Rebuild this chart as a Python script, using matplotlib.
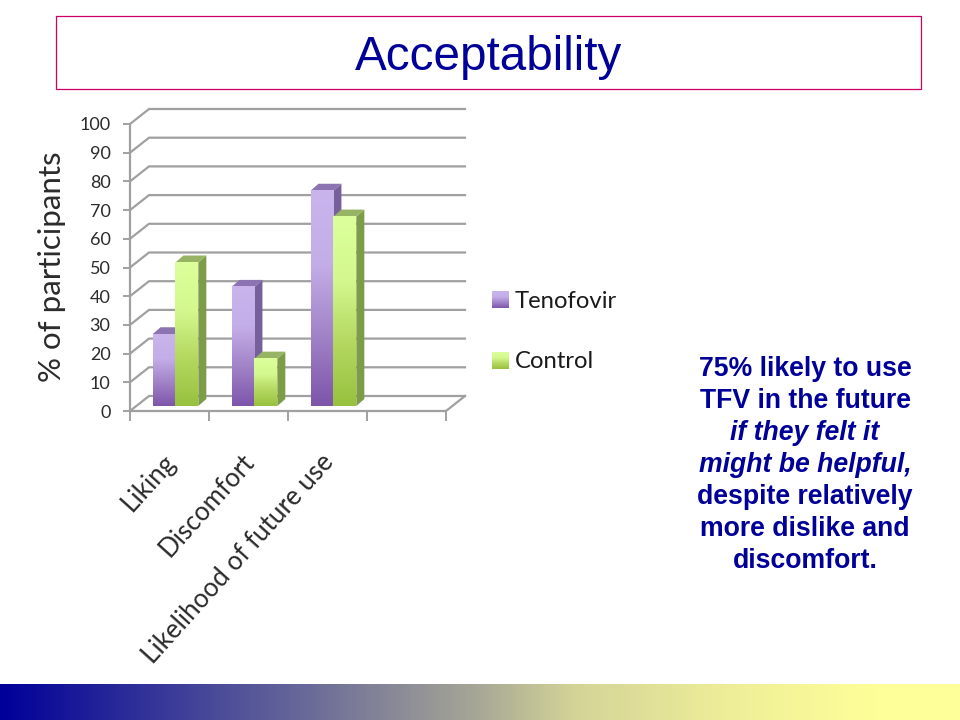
import numpy as np
import matplotlib
matplotlib.use("Agg")
import matplotlib.pyplot as plt
from matplotlib.colors import LinearSegmentedColormap
from matplotlib.patches import Polygon, Rectangle

categories = ["Liking", "Discomfort", "Likelihood of future use"]
tenofovir = [25, 41.5, 75]
control = [50, 16.5, 66]
y_ticks = [0, 10, 20, 30, 40, 50, 60, 70, 80, 90, 100]
slide_lines = [
    ("75% likely to use", "normal"),
    ("TFV in the future", "normal"),
    ("if they felt it", "italic"),
    ("might be helpful,", "italic"),
    ("despite relatively", "normal"),
    ("more dislike and", "normal"),
    ("discomfort.", "normal"),
]

W, H = 960, 720
navy = "#000099"
grid_col = "#a0a0a0"
chart_font = "Lato"
text_col = "#2b2b2b"

purple = LinearSegmentedColormap.from_list("p", ["#7d55aa", "#a284c8", "#c4aee8", "#c9b4ec"])
green = LinearSegmentedColormap.from_list("g", ["#98c13f", "#b4d860", "#d4f88e", "#dcff9c"])
grad = np.linspace(0, 1, 128).reshape(-1, 1)

fig = plt.figure(figsize=(9.6, 7.2), dpi=100)

# page layer in pixels
page = fig.add_axes([0, 0, 1, 1])
page.set_xlim(0, W)
page.set_ylim(H, 0)
page.axis("off")
page.add_patch(Rectangle((56, 16), 865, 73, fc="white", ec="#cc0066", lw=0.9))
page.text(488.5, 57, "Acceptability", family="Liberation Sans", fontsize=34.3,
          color=navy, ha="center", va="center")
band = LinearSegmentedColormap.from_list("b", [(0, navy), (0.32, "#6a6a99"), (0.5, "#a8a896"),
                                               (0.6, "#d4d498"), (0.76, "#eeee98"),
                                               (0.92, "#ffff99"), (1, "#ffff99")])
page.imshow(np.linspace(0, 1, 256).reshape(1, -1), extent=(0, W, 720, 684),
            cmap=band, aspect="auto")
page.set_xlim(0, W)
page.set_ylim(H, 0)

for i, (line, style) in enumerate(slide_lines):
    page.text(805, 369 + i * 32, line, family="Liberation Sans", fontsize=19.2,
              fontweight="bold", fontstyle=style, color=navy, ha="center", va="center")

# legend
for label, cm, y0 in [("Tenofovir", purple, 291), ("Control", green, 352)]:
    page.imshow(grad, extent=(492, 509, y0 + 17, y0), cmap=cm, origin="lower", aspect="auto")
    page.text(515, y0 + 10, label, family=chart_font, fontsize=17.2, color="#1a1a1a",
              ha="left", va="center")
page.set_xlim(0, W)
page.set_ylim(H, 0)

# chart: x in category units, y in percent, front plane of the box
ax = fig.add_axes([130 / W, 1 - 411 / H, 316 / W, 287 / H])
ax.set_xlim(0, 4)
ax.set_ylim(0, 100)
ax.patch.set_alpha(0)
for s in ax.spines.values():
    s.set_visible(False)

dx, dy = 19 / 79, 15 / 2.87  # box depth
for v in y_ticks:
    ax.plot([0, dx, 4 + dx], [v, v + dy, v + dy], color=grid_col, lw=1.6, clip_on=False,
            solid_joinstyle="miter", zorder=1)
ax.plot([0, 0], [0, 100], color=grid_col, lw=1.6, clip_on=False, zorder=1)
ax.plot([0, 4, 4 + dx], [0, 0, dy], color=grid_col, lw=1.6, clip_on=False, zorder=1)

ax.set_yticks(y_ticks)
ax.set_xticks(range(5))
ax.set_xticklabels([])
ax.tick_params(axis="y", length=5, width=1.4, color=grid_col, labelsize=13, pad=9,
               labelcolor=text_col)
ax.tick_params(axis="x", length=7.2, width=1.4, color=grid_col)
for lab in ax.get_yticklabels():
    lab.set_family(chart_font)

bar_w = 0.29
base = 5 / 2.87
side_dx, side_dy = 8 / 79, 7 / 2.87


def draw_bar(x0, v, cm, side_col, top_col, z):
    top = v + base
    ax.imshow(grad, extent=(x0, x0 + bar_w, base, top), cmap=cm, origin="lower",
              aspect="auto", zorder=z + 1)
    ax.add_patch(Polygon([(x0 + bar_w, base), (x0 + bar_w + side_dx, base + side_dy),
                          (x0 + bar_w + side_dx, top + side_dy), (x0 + bar_w, top)],
                         fc=side_col, ec="none", zorder=z))
    ax.add_patch(Polygon([(x0, top), (x0 + side_dx, top + side_dy),
                          (x0 + bar_w + side_dx, top + side_dy), (x0 + bar_w, top)],
                         fc=top_col, ec="none", zorder=z))


for i in range(len(categories)):
    mid = i + 0.575
    draw_bar(mid - bar_w, tenofovir[i], purple, "#76609c", "#8c74b2", 3)
    draw_bar(mid, control[i], green, "#7c9c48", "#96b464", 5)
ax.set_xlim(0, 4)
ax.set_ylim(0, 100)

for i, name in enumerate(categories):
    ax.annotate(name, xy=(i + 0.62, 0), xytext=(-17, -38), textcoords="offset pixels",
                family=chart_font, fontsize=18.7, color=text_col, rotation=48,
                rotation_mode="anchor", ha="right", va="top", annotation_clip=False)

page.text(52, 267, "% of participants", family=chart_font, fontsize=22.5, color=text_col,
          rotation=90, ha="center", va="center")

fig.savefig("out.png", dpi=100)
